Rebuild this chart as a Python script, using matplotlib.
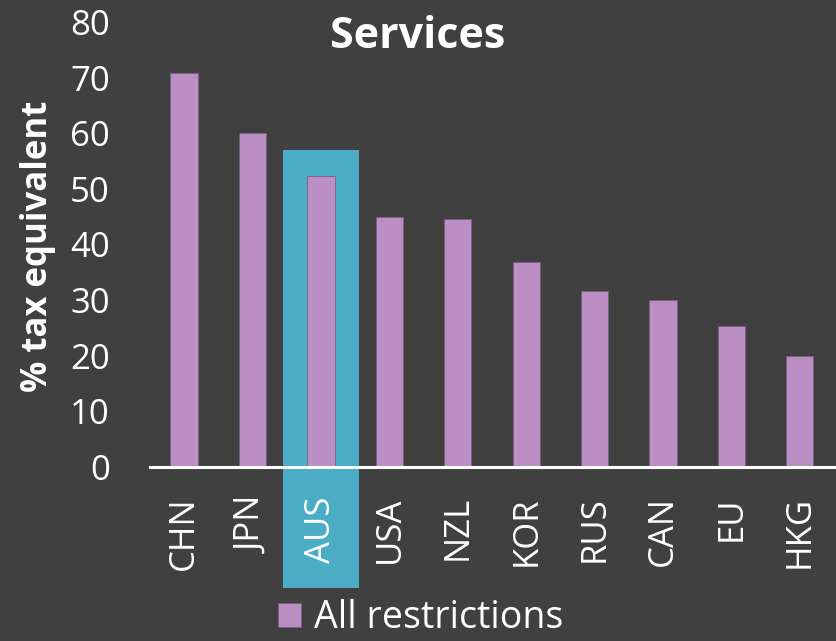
import numpy as np
import matplotlib.pyplot as plt
from matplotlib.patches import Rectangle

plt.rcParams['font.family'] = ['Open Sans', 'DejaVu Sans']

countries = ['CHN', 'JPN', 'AUS', 'USA', 'NZL', 'KOR', 'RUS', 'CAN', 'EU', 'HKG']
all_restrictions = [70.9, 60.1, 52.4, 44.9, 44.5, 36.8, 31.6, 30.1, 25.3, 19.9]
highlight = 'AUS'

bg = '#404040'
bar_color = '#BB8FC4'
teal = '#4BACC6'

fig = plt.figure(figsize=(8.36, 6.41), dpi=100, facecolor=bg)
ax = fig.add_axes([0.1794, 0.2715, 0.8182, 0.6942])
ax.set_facecolor(bg)

x = np.arange(len(countries))

# highlight box behind the chosen country, runs down over its label
hi = countries.index(highlight)
ax.add_patch(Rectangle((hi - 0.555, -21.8), 1.11, 57.0 + 21.8,
                       facecolor=teal, edgecolor='none', clip_on=False, zorder=0))

ax.bar(x, all_restrictions, width=0.4, color=bar_color, edgecolor='#7a5f80',
       linewidth=0.6, zorder=2, label='All restrictions')

ax.set_xlim(-0.5, len(countries) - 0.5)
ax.set_ylim(0, 80)
ax.set_yticks(range(0, 81, 10))
ax.set_xticks(x)
ax.set_xticklabels(countries, rotation=90, va='top')
ax.tick_params(axis='both', length=0, colors='white', labelsize=25)
ax.tick_params(axis='x', pad=21)
ax.tick_params(axis='y', pad=29)

for s in ['top', 'right', 'left']:
    ax.spines[s].set_visible(False)
ax.spines['bottom'].set_color('white')
ax.spines['bottom'].set_linewidth(2.2)
ax.spines['bottom'].set_zorder(3)

fig.text(38 / 836, 1 - 246 / 641, '% tax equivalent', color='white', fontsize=25,
         fontweight='bold', rotation=90, ha='center', va='center')
fig.text(418 / 836, 1 - 37 / 641, 'Services', color='white', fontsize=31,
         fontweight='bold', ha='center', va='center')

leg = fig.legend(loc='center left', bbox_to_anchor=(278 / 836, 1 - 618 / 641), frameon=False,
                 fontsize=27, handlelength=0.6, handleheight=0.6, handletextpad=0.35,
                 borderpad=0, borderaxespad=0, labelcolor='white')

plt.savefig('out.png', facecolor=bg)
